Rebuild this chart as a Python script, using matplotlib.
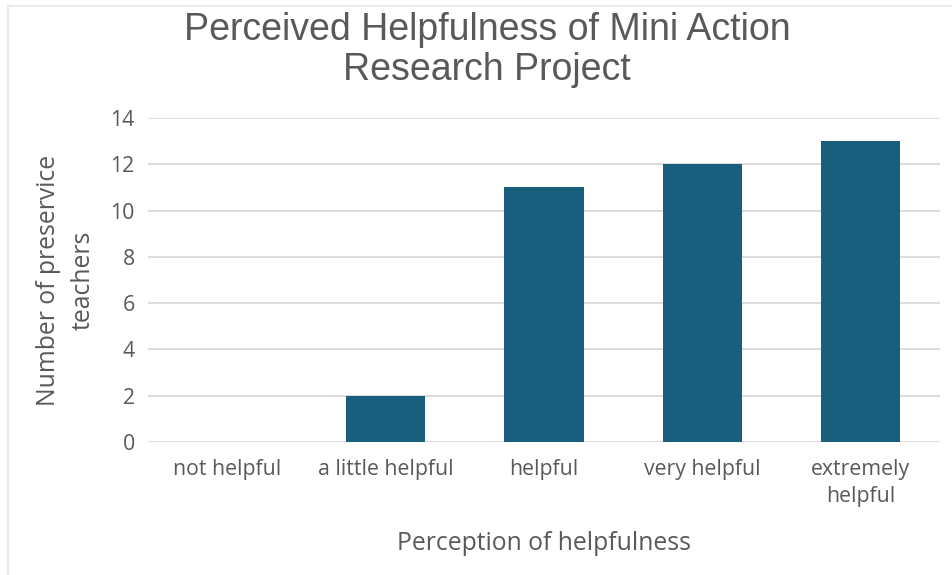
import matplotlib
matplotlib.use('Agg')
import matplotlib.pyplot as plt
import numpy as np

plt.rcParams['font.family'] = ['Liberation Sans', 'DejaVu Sans']

categories = ['not helpful', 'a little helpful', 'helpful', 'very helpful', 'extremely\nhelpful']
counts = [0, 2, 11, 12, 13]
y_ticks = [0, 2, 4, 6, 8, 10, 12, 14]

bar_color = '#1A5E7E'
text_color = '#595959'
grid_color = '#D9D9D9'
label_font = ['Open Sans', 'DejaVu Sans']

fig = plt.figure(figsize=(9.52, 5.75), dpi=100)
ax = fig.add_axes([148 / 952, 1 - 442 / 575, (940 - 148) / 952, (442 - 118) / 575])

x = np.arange(len(categories))
ax.bar(x, counts, width=0.5, color=bar_color, zorder=3)

ax.set_xlim(-0.5, len(categories) - 0.5)
ax.set_ylim(0, 14)
ax.set_yticks(y_ticks)
ax.set_xticks(x)
ax.set_xticklabels(categories, fontsize=15.3, color=text_color, linespacing=1.34,
                   family=label_font)
for lbl in ax.get_yticklabels():
    lbl.set_family(label_font)
ax.tick_params(axis='y', labelsize=15.3, labelcolor=text_color, length=0, pad=9.5)
ax.tick_params(axis='x', length=0, pad=12.5)

ax.yaxis.grid(True, color=grid_color, linewidth=1.3, zorder=0)
for side in ax.spines:
    ax.spines[side].set_visible(False)

ax.set_xlabel('Perception of helpfulness', fontsize=17.8, color=text_color,
              family=label_font, va='center')
ax.xaxis.set_label_coords(0.5, (442 - 543) / 324)
ax.set_ylabel('Number of preservice\nteachers', fontsize=17.8, color=text_color,
              family=label_font, linespacing=1.5, va='center', ha='center')
ax.yaxis.set_label_coords((66 - 148) / 792, (442 - 280) / 324)

fig.text(487 / 952, 1 - 50 / 575, 'Perceived Helpfulness of Mini Action\nResearch Project',
         ha='center', va='center', fontsize=27, color=text_color, linespacing=1.16)

# thin chart-area frame on the left and top
fig.add_artist(plt.Line2D([8 / 952, 8 / 952], [0, 1 - 6 / 575], color='#E6E6E6', lw=1.2))
fig.add_artist(plt.Line2D([8 / 952, 1], [1 - 6 / 575, 1 - 6 / 575], color='#E6E6E6', lw=1.2))

fig.savefig('out.png', dpi=100)
plt.close(fig)
